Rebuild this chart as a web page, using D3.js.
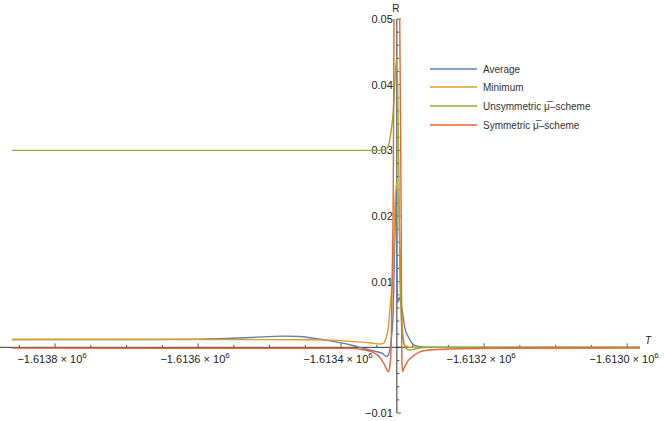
<!DOCTYPE html>
<html>
<head>
<meta charset="utf-8">
<script src="https://cdn.jsdelivr.net/npm/d3@7"></script>
<style>
  html, body { margin: 0; padding: 0; background: #fff; }
  svg { display: block; font-family: "Liberation Sans", Arial, sans-serif; }
</style>
</head>
<body>
<svg id="chart" width="664" height="421"></svg>
<script>
// ---- data (T, R) ----
const seriesNames = ["Average", "Minimum", "Unsymmetric \u03BC\u0305\u2013scheme", "Symmetric \u03BC\u0305\u2013scheme"];
const seriesColors = ["#5E81B5", "#E19C24", "#8FB032", "#EB6235"];

const averageData = [
  [-1613860, 0.0012], [-1613737, 0.0012], [-1613667, 0.0012], [-1613597, 0.00125],
  [-1613527, 0.0015], [-1613481, 0.0017], [-1613457, 0.00165], [-1613434, 0.0013],
  [-1613411, 0.0009], [-1613388, 0.0004], [-1613367, -0.0002], [-1613353, -0.0006],
  [-1613343, -0.0009], [-1613336, -0.0014], [-1613333, -0.0009], [-1613330, 0.001],
  [-1613327, 0.006], [-1613325, 0.016], [-1613323, 0.024], [-1613322, 0.014],
  [-1613321, 0.0068], [-1613318.5, 0.0076], [-1613316, 0.0065], [-1613313, 0.0045],
  [-1613311, 0.003], [-1613306, 0.0016], [-1613302, 0.0008], [-1613297, 0.0003],
  [-1613290, 0.0001], [-1613276, 0], [-1612982, 0]
];

const minimumData = [
  [-1613860, 0.0012], [-1613737, 0.0012], [-1613597, 0.0012], [-1613457, 0.00115],
  [-1613411, 0.0011], [-1613388, 0.0009], [-1613360, 0.0007], [-1613346, 0.0005],
  [-1613341, 0.0006], [-1613337, 0.0015], [-1613334, 0.003], [-1613332, 0.0055],
  [-1613329, 0.009], [-1613327, 0.012], [-1613326, 0.016], [-1613325, 0.021],
  [-1613323, 0.0245], [-1613322, 0.025], [-1613321, 0.024], [-1613319, 0.02],
  [-1613318, 0.016], [-1613316, 0.009], [-1613315, 0.004], [-1613313, 0.0015],
  [-1613311, 0.0003], [-1613304, 0], [-1612982, 0]
];

const unsymmetricData = [
  [-1613860, 0.03], [-1613346, 0.03], [-1613339, 0.0301], [-1613336, 0.0303],
  [-1613333, 0.031], [-1613330, 0.033], [-1613327, 0.036], [-1613325, 0.04],
  [-1613322.5, 0.044], [-1613321, 0.04], [-1613319, 0.025], [-1613318, 0.012],
  [-1613316, 0.005], [-1613315, 0.0025], [-1613312, 0.0005], [-1613309, -0.0002],
  [-1613304, -0.0004], [-1613297, -0.0003], [-1613290, -0.0001], [-1613276, 0],
  [-1612982, 0]
];

const symmetricData = [
  [-1613860, -0.00012], [-1613388, -0.00015], [-1613367, -0.0004], [-1613353, -0.0009],
  [-1613346, -0.0015], [-1613340, -0.0025], [-1613336, -0.0034], [-1613334, -0.0037],
  [-1613332, -0.003], [-1613330, 0.0], [-1613329, 0.008], [-1613327, 0.025],
  [-1613326, 0.05], [-1613325, 0.07], [-1613322, 0.08], [-1613319, 0.07],
  [-1613318, 0.05], [-1613316, 0.02], [-1613315, -0.002], [-1613314, -0.0037],
  [-1613312, -0.0032], [-1613308.5, -0.0024], [-1613300, -0.0014], [-1613290, -0.0007],
  [-1613276, -0.0004], [-1613248, -0.00025], [-1613178, -0.00015], [-1612982, -0.0001]
];

const allSeries = [averageData, minimumData, unsymmetricData, symmetricData];

const xMajorTicks = [-1613800, -1613600, -1613400, -1613200, -1613000];
const xTickLabels = ["\u22121.6138", "\u22121.6136", "\u22121.6134", "\u22121.6132", "\u22121.6130"];
const yMajorTicks = [-0.01, 0.01, 0.02, 0.03, 0.04, 0.05];
const yTickLabels = ["\u22120.01", "0.01", "0.02", "0.03", "0.04", "0.05"];

// ---- scales ----
const svg = d3.select("#chart");
const x = d3.scaleLinear().domain([-1613877, -1612982]).range([0, 640]);
const y = d3.scaleLinear().domain([-0.01, 0.05]).range([413, 19]);

const x0 = x(-1613322); // vertical axis position
const y0 = y(0);

svg.append("defs").append("clipPath").attr("id", "clip")
  .append("rect").attr("x", 0).attr("y", y(0.05)).attr("width", 664).attr("height", y(-0.01) - y(0.05));

const axisColor = "#333";
const labelColor = "#222";

// ---- x axis ----
const gx = svg.append("g");
gx.append("line").attr("x1", 0).attr("x2", 640).attr("y1", y0).attr("y2", y0)
  .attr("stroke", axisColor).attr("stroke-width", 1);
const xMinor = d3.range(-1613850, -1612980, 50);
gx.selectAll(".xminor").data(xMinor).enter().append("line")
  .attr("x1", d => x(d)).attr("x2", d => x(d))
  .attr("y1", y0).attr("y2", d => (Math.round(d) % 200 === 0 ? y0 - 4 : y0 - 2.5))
  .attr("stroke", axisColor).attr("stroke-width", 0.8);
const xl = gx.selectAll(".xlab").data(xMajorTicks).enter().append("text")
  .attr("x", d => x(d) - 3).attr("y", y0 + 16)
  .attr("text-anchor", "middle").attr("font-size", 11).attr("fill", labelColor);
xl.append("tspan").text((d, i) => xTickLabels[i] + " \u00D7 10");
xl.append("tspan").attr("dy", -5).attr("font-size", 8).text("6");
svg.append("text").attr("x", 648).attr("y", y0 - 3).attr("text-anchor", "middle")
  .attr("font-size", 10).attr("font-style", "italic").attr("fill", labelColor).text("T");

// ---- y axis ----
const gy = svg.append("g");
gy.append("line").attr("x1", x0).attr("x2", x0).attr("y1", y(0.05)).attr("y2", y(-0.01))
  .attr("stroke", axisColor).attr("stroke-width", 1);
const yMinor = d3.range(-10, 51, 2).map(v => v / 1000);
gy.selectAll(".yminor").data(yMinor).enter().append("line")
  .attr("x1", x0).attr("x2", d => (Math.round(d * 1000) % 10 === 0 ? x0 + 4 : x0 + 2.5))
  .attr("y1", d => y(d)).attr("y2", d => y(d))
  .attr("stroke", axisColor).attr("stroke-width", 0.8);
gy.selectAll(".ylab").data(yMajorTicks).enter().append("text")
  .attr("x", x0 - 4).attr("y", d => y(d) + 4)
  .attr("text-anchor", "end").attr("font-size", 11).attr("fill", labelColor)
  .text((d, i) => yTickLabels[i]);
svg.append("text").attr("x", x0 - 1).attr("y", 12).attr("text-anchor", "middle")
  .attr("font-size", 10).attr("fill", labelColor).text("R");

// ---- lines ----
const line = d3.line().x(d => x(d[0])).y(d => y(d[1])).curve(d3.curveMonotoneX);
const gl = svg.append("g").attr("clip-path", "url(#clip)");
allSeries.forEach((s, i) => {
  gl.append("path").datum(s).attr("d", line)
    .attr("fill", "none").attr("stroke", seriesColors[i]).attr("stroke-width", 1.4)
    .attr("stroke-linejoin", "round");
});

// ---- legend ----
const legendY = [69, 87, 106, 125];
const lg = svg.append("g");
seriesNames.forEach((n, i) => {
  lg.append("line").attr("x1", 430).attr("x2", 477).attr("y1", legendY[i]).attr("y2", legendY[i])
    .attr("stroke", seriesColors[i]).attr("stroke-width", 1.4);
  lg.append("text").attr("x", 483).attr("y", legendY[i] + 3.5)
    .attr("font-size", 10).attr("fill", "#333").text(n);
});
</script>
</body>
</html>
